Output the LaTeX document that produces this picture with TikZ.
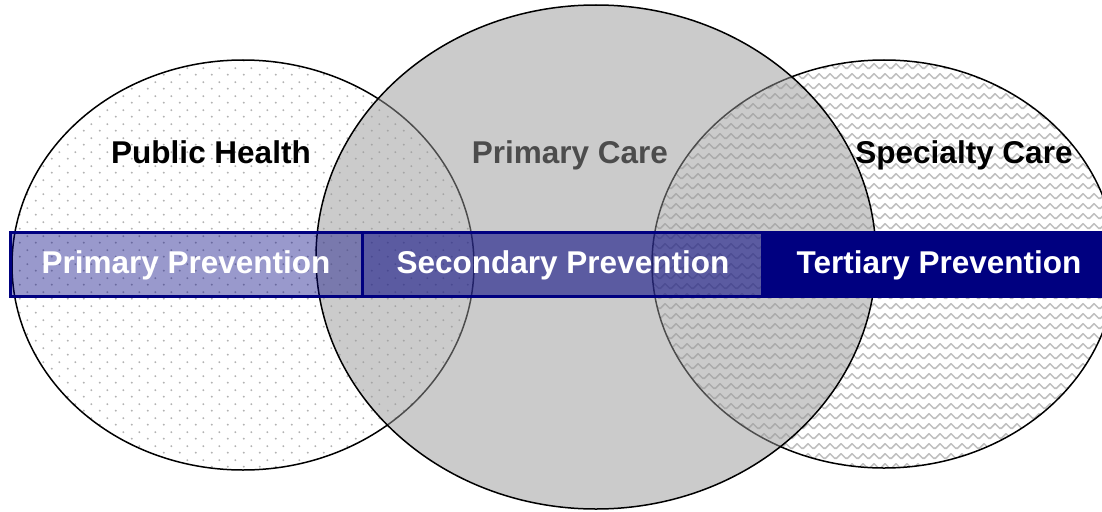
\documentclass[tikz,border=0pt]{standalone}
\usepackage{fontspec}
\setmainfont{Liberation Sans}
\usetikzlibrary{shapes.geometric,patterns.meta}
\definecolor{navyblue}{RGB}{0,0,128}
\tikzdeclarepattern{
  name=phdots,
  type=uncolored,
  bounding box={(0pt,0pt) and (16pt,14pt)},
  tile size={(16pt,14pt)},
  code={
    \fill (4pt,3.5pt) circle (1.1pt);
    \fill (12pt,10.5pt) circle (1.1pt);
  }
}
\tikzdeclarepattern{
  name=zigzag,
  type=uncolored,
  bounding box={(0pt,0pt) and (11pt,10pt)},
  tile size={(11pt,10pt)},
  code={
    \draw[line width=1.6pt,line join=round] (-5.5pt,8pt) -- (0pt,2.5pt) -- (5.5pt,8pt) -- (11pt,2.5pt) -- (16.5pt,8pt);
  }
}
\begin{document}
\begin{tikzpicture}[x=1pt,y=-1pt,
  venn/.style={ellipse, draw=black, line width=1.5pt, inner sep=0pt},
  barbox/.style={rectangle, inner sep=0pt, draw=navyblue, line width=3pt, fill=navyblue},
  lbl/.style={font=\fontsize{31.5}{37}\selectfont\bfseries, anchor=base, inner sep=0pt},
  wlbl/.style={lbl, text=white}]
\useasboundingbox (0,0) rectangle (1102,511);
\clip (0,0) rectangle (1102,511);
\fill[white] (0,0) rectangle (1102,511);
% circles
\node[venn, pattern=phdots, pattern color=black!30, minimum width=462pt, minimum height=410pt] (ph) at (243,265) {};
\node[venn, pattern=zigzag, pattern color=black!25, minimum width=464pt, minimum height=408pt] (sc) at (884,264) {};
\node[venn, fill=black!40, fill opacity=0.5, minimum width=560pt, minimum height=504pt] (pc) at (596,257) {};
% prevention bar
\node[barbox, fill opacity=0.4, minimum width=352pt, minimum height=64pt] (pp) at (186,264) {};
\node[barbox, fill opacity=0.55, minimum width=400pt, minimum height=64pt] (sp) at (562,264) {};
\node[barbox, draw=none, minimum width=360pt, minimum height=67pt] (tp) at (942,264) {};
% labels
\node[lbl] (phl) at (211,163) {Public Health};
\node[lbl, text=black!70] (pcl) at (570,163) {Primary Care};
\node[lbl] (scl) at (964,163) {Specialty Care};
\node[wlbl] (ppl) at (186,273) {Primary Prevention};
\node[wlbl] (spl) at (563,273) {Secondary Prevention};
\node[wlbl] (tpl) at (939,273) {Tertiary Prevention};
\end{tikzpicture}
\end{document}
